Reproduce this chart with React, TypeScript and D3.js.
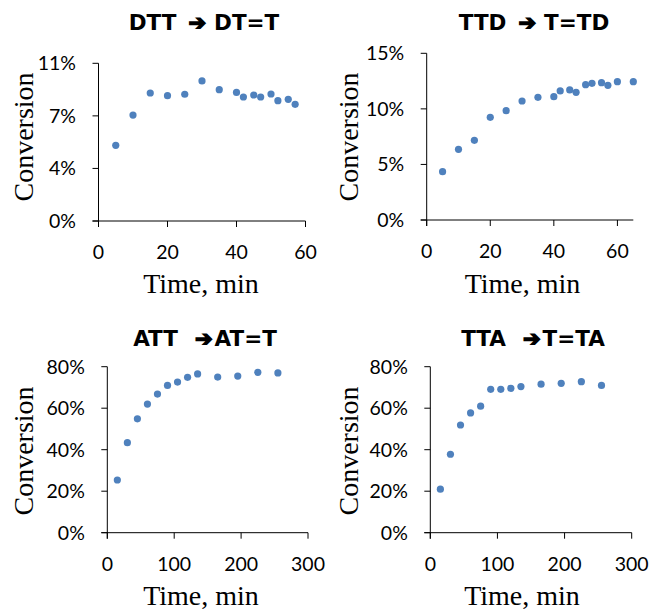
import React from "react";
import * as d3 from "d3";

// ---- data ----
const dttTime = [5, 10, 15, 20, 25, 30, 35, 40, 42, 45, 47, 50, 52, 55, 57];
const dttConv = [5.28, 7.39, 8.93, 8.74, 8.84, 9.77, 9.16, 8.97, 8.65, 8.79, 8.65, 8.86, 8.39, 8.49, 8.14];

const ttdTime = [5, 10, 15, 20, 25, 30, 35, 40, 42, 45, 47, 50, 52, 55, 57, 60, 65];
const ttdConv = [4.35, 6.36, 7.17, 9.24, 9.84, 10.71, 11.04, 11.1, 11.61, 11.7, 11.49, 12.18, 12.3, 12.36, 12.12, 12.45, 12.45];

const attTime = [15, 30, 45, 60, 75, 90, 105, 120, 135, 165, 195, 225, 255];
const attConv = [25.4, 43.4, 54.9, 62.0, 66.8, 71.0, 72.6, 74.9, 76.5, 75.0, 75.5, 77.3, 77.0];

const ttaTime = [15, 30, 45, 60, 75, 90, 105, 120, 135, 165, 195, 225, 255];
const ttaConv = [21.0, 37.8, 51.9, 57.7, 61.0, 69.1, 69.1, 69.6, 70.4, 71.6, 72.0, 72.8, 71.0];

const titleLeft = ["DTT", "TTD", "ATT", "TTA"];
const titleRight = ["DT=T", "T=TD", "AT=T", "T=TA"];
const ARROW = "➔";
const dttXTicks = [0, 20, 40, 60];
const dttYTicks = [0, 11 / 3, 22 / 3, 11];
const ttdXTicks = [0, 20, 40, 60];
const ttdYTicks = [0, 5, 10, 15];
const longXTicks = [0, 100, 200, 300];
const longYTicks = [0, 20, 40, 60, 80];
const xTitle = "Time, min";
const yTitle = "Conversion";

// ---- layout ----
const gapBefore = [12, 12, 17, 17];
const gapAfter = [8, 8, 2, 2];
const panels = [
  { time: dttTime, conv: dttConv, xTicks: dttXTicks, yTicks: dttYTicks, xMax: 60, yMax: 11,
    left: 98.5, right: 305.5, top: 63.3, bottom: 221, titleX: 204, titleY: 30, axTitleX: 201, axTitleY: 293, yTitleX: 33, yTitleY: 137 },
  { time: ttdTime, conv: ttdConv, xTicks: ttdXTicks, yTicks: ttdYTicks, xMax: 65, yMax: 15,
    left: 426.7, right: 633.3, top: 53.3, bottom: 220, titleX: 534, titleY: 30, axTitleX: 522.5, axTitleY: 293, yTitleX: 358, yTitleY: 137 },
  { time: attTime, conv: attConv, xTicks: longXTicks, yTicks: longYTicks, xMax: 300, yMax: 80,
    left: 107.3, right: 308, top: 366.7, bottom: 532.7, titleX: 205, titleY: 346, axTitleX: 201, axTitleY: 605, yTitleX: 33, yTitleY: 451 },
  { time: ttaTime, conv: ttaConv, xTicks: longXTicks, yTicks: longYTicks, xMax: 300, yMax: 80,
    left: 430.3, right: 631.7, top: 366.7, bottom: 532.7, titleX: 533, titleY: 346, axTitleX: 522, axTitleY: 605, yTitleX: 358, yTitleY: 451 },
];

const DOT = "#4F81BD";
const AXIS = "#000";
const TICK_FONT = "Lato, 'Open Sans', sans-serif";
const fmtPct = (v: number) => `${Math.round(v)}%`;

function Panel({ p, i }: { p: (typeof panels)[number]; i: number }) {
  const x = d3.scaleLinear().domain([0, p.xMax]).range([p.left, p.right]);
  const y = d3.scaleLinear().domain([0, p.yMax]).range([p.bottom, p.top]);
  const tick = 6;
  return (
    <g>
      <text x={p.titleX} y={p.titleY} textAnchor="middle" fontFamily="'DejaVu Sans', Verdana, sans-serif"
        fontWeight="bold" fontSize={21.5}>
        <tspan>{titleLeft[i]}</tspan>
        <tspan dx={gapBefore[i]} stroke="#000" strokeWidth={1.5} fontSize={21}>{ARROW}</tspan>
        <tspan dx={gapAfter[i]}>{titleRight[i]}</tspan>
      </text>
      {/* y axis */}
      <line x1={p.left} x2={p.left} y1={p.top} y2={p.bottom + tick} stroke={AXIS} strokeWidth={1} />
      {p.yTicks.map((t, k) => (
        <g key={"y" + k}>
          <line x1={p.left - tick} x2={p.left} y1={y(t)} y2={y(t)} stroke={AXIS} strokeWidth={1} />
          <text x={p.left - 22.5} y={y(t)} dy="0.36em" textAnchor="end" fontFamily={TICK_FONT} fontSize={19.5} fill="#000">{fmtPct(t)}</text>
        </g>
      ))}
      {/* x axis */}
      <line x1={p.left - tick} x2={p.right} y1={p.bottom} y2={p.bottom} stroke={AXIS} strokeWidth={1} />
      {p.xTicks.map((t, k) => (
        <g key={"x" + k}>
          <line x1={x(t)} x2={x(t)} y1={p.bottom} y2={p.bottom + tick} stroke={AXIS} strokeWidth={1} />
          <text x={x(t)} y={p.bottom + 38} textAnchor="middle" fontFamily={TICK_FONT} fontSize={19.5} fill="#000">{t}</text>
        </g>
      ))}
      {p.time.map((t, k) => (
        <circle key={"c" + k} cx={x(t)} cy={y(p.conv[k])} r={3.6} fill={DOT} />
      ))}
      <text x={p.axTitleX} y={p.axTitleY} textAnchor="middle" fontFamily="'Liberation Serif', 'Times New Roman', serif" fontSize={28}>{xTitle}</text>
      <text transform={`translate(${p.yTitleX},${p.yTitleY}) rotate(-90)`} textAnchor="middle"
        fontFamily="'Liberation Serif', 'Times New Roman', serif" fontSize={28}>{yTitle}</text>
    </g>
  );
}

export default function App() {
  return (
    <svg width={651} height={610} style={{ position: "absolute", left: 0, top: 0, background: "#fff" }}>
      <rect width={651} height={610} fill="#fff" />
      {panels.map((p, i) => <Panel key={i} p={p} i={i} />)}
    </svg>
  );
}
